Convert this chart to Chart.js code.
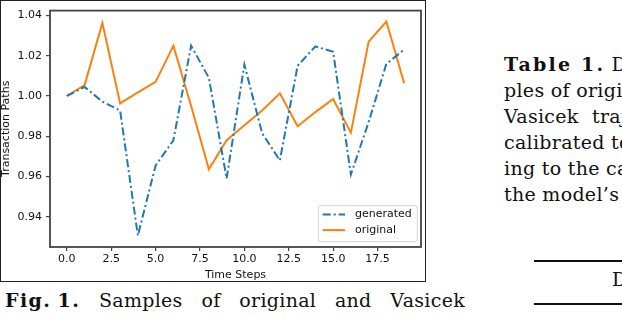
<!DOCTYPE html>
<html>
<head>
<meta charset="utf-8">
<script src="https://cdn.jsdelivr.net/npm/chart.js@4.4.1/dist/chart.umd.min.js"></script>
<style>
html, body { margin: 0; padding: 0; background: #fff; width: 622px; height: 318px; overflow: hidden; }
#frame { position: absolute; left: 0; top: 0; width: 426px; height: 282px; box-sizing: border-box; border: 1.5px solid #222; }
#plot { position: absolute; left: 0; top: 0; }
.serif { font-family: "DejaVu Serif", serif; font-size: 19px; line-height: 26px; color: #111; letter-spacing: 0.3px; }
.serif b { letter-spacing: 1.4px; }
#caption { position: absolute; left: 5px; top: 287px; width: 460px; text-align: justify; text-align-last: justify; }
#caption .lab { display: inline-block; }
#side { position: absolute; left: 504px; top: 51px; white-space: nowrap; }
#side b { letter-spacing: 2.2px; }
#side .wide { word-spacing: 7px; }
#rule1 { position: absolute; left: 534px; top: 260px; width: 100px; height: 2px; background: #111; }
#rule2 { position: absolute; left: 534px; top: 303px; width: 100px; height: 1.5px; background: #111; }
#tabhead { position: absolute; left: 612px; top: 266px; white-space: nowrap; }
</style>
</head>
<body>
<canvas id="plot" width="430" height="284"></canvas>
<div id="frame"></div>
<div id="caption" class="serif"><span class="lab"><b>Fig.</b> <b>1.</b></span> Samples of original and Vasicek</div>
<div id="side" class="serif">
<div><b>Table 1.</b> Distances between sam-</div>
<div>ples of original and generated</div>
<div class="wide">Vasicek trajectories, with the model</div>
<div>calibrated to the data correspond-</div>
<div>ing to the calibration date and</div>
<div>the model’s parameters</div>
</div>
<div id="rule1"></div>
<div id="tabhead" class="serif">Data</div>
<div id="rule2"></div>
<script>
// DATA
const steps = [0, 1, 2, 3, 4, 5, 6, 7, 8, 9, 10, 11, 12, 13, 14, 15, 16, 17, 18, 19];
const generated = [1.000, 1.0045, 0.9972, 0.9928, 0.9306, 0.9655, 0.978, 1.025, 1.009, 0.959,
    1.0156, 0.9815, 0.968, 1.015, 1.0246, 1.022, 0.961, 0.987, 1.016, 1.023];
const original = [1.000, 1.0054, 1.0363, 0.9963, 1.0018, 1.007, 1.025, 0.995, 0.9636, 0.978,
    0.9855, 0.9928, 1.0013, 0.985, 0.992, 0.9985, 0.9818, 1.027, 1.037, 1.0063];
const xTicks = [0, 2.5, 5, 7.5, 10, 12.5, 15, 17.5];
const yTicks = [0.94, 0.96, 0.98, 1.00, 1.02, 1.04];

const tickFont = { family: 'DejaVu Sans', size: 11 };

// SPINES
const spines = {
    id: 'spines',
    afterDatasetsDraw(chart) {
        const { ctx, chartArea: a } = chart;
        ctx.save();
        ctx.strokeStyle = '#444';
        ctx.lineWidth = 1.8;
        ctx.strokeRect(a.left, a.top, a.right - a.left, a.bottom - a.top);
        ctx.restore();
    }
};

// LEGEND INSIDE THE PLOT
const legendBox = {
    id: 'legendBox',
    afterDraw(chart) {
        const { ctx, chartArea: a } = chart;
        const bx = a.right - 102.7, by = a.bottom - 41.3, bw = 99, bh = 36;
        ctx.save();
        ctx.beginPath();
        ctx.roundRect(bx, by, bw, bh, 2.5);
        ctx.fillStyle = 'rgba(255,255,255,0.85)';
        ctx.fill();
        ctx.strokeStyle = '#d4d4d4';
        ctx.lineWidth = 1;
        ctx.stroke();
        ctx.font = '11px "DejaVu Sans"';
        ctx.textBaseline = 'middle';
        chart.data.datasets.forEach((ds, i) => {
            const y = by + 8.8 + i * 15.6;
            ctx.beginPath();
            ctx.setLineDash(ds.borderDash || []);
            ctx.strokeStyle = ds.borderColor;
            ctx.lineWidth = ds.borderWidth;
            ctx.moveTo(bx + 4.4, y);
            ctx.lineTo(bx + 26.7, y);
            ctx.stroke();
            ctx.setLineDash([]);
            ctx.fillStyle = '#111';
            ctx.fillText(ds.label, bx + 36.7, y);
        });
        ctx.restore();
    }
};

const ctx = document.getElementById('plot');

new Chart(ctx, {
    type: 'line',
    data: {
        datasets: [{
            label: 'generated',
            data: steps.map((s, i) => ({ x: s, y: generated[i] })),
            borderColor: '#1f77b4',
            borderWidth: 2,
            borderDash: [8, 3, 2, 3],
            pointRadius: 0,
            tension: 0,
            fill: false
        }, {
            label: 'original',
            data: steps.map((s, i) => ({ x: s, y: original[i] })),
            borderColor: '#ff7f0e',
            borderWidth: 2,
            pointRadius: 0,
            tension: 0,
            fill: false
        }]
    },
    options: {
        responsive: false,
        animation: false,
        devicePixelRatio: 1,
        layout: { padding: { top: 6, right: 9, bottom: 2, left: 0 } },
        plugins: { legend: { display: false }, tooltip: { enabled: false } },
        scales: {
            x: {
                type: 'linear',
                min: -0.95,
                max: 19.95,
                afterBuildTicks: s => { s.ticks = xTicks.map(v => ({ value: v })); },
                afterFit: s => { s.height = 35; },
                ticks: { font: tickFont, color: '#111', padding: 2, maxRotation: 0, callback: v => v.toFixed(1) },
                grid: { drawOnChartArea: false, tickLength: 4, color: '#444', lineWidth: 1.2 },
                border: { display: false },
                title: { display: true, text: 'Time Steps', font: tickFont, color: '#111', padding: { top: 0, bottom: 0 } }
            },
            y: {
                min: 0.925,
                max: 1.0424,
                afterBuildTicks: s => { s.ticks = yTicks.map(v => ({ value: v })); },
                afterFit: s => { s.width = 50; },
                ticks: { font: tickFont, color: '#111', padding: 4, callback: v => v.toFixed(2) },
                grid: { drawOnChartArea: false, tickLength: 4, color: '#444', lineWidth: 1.2 },
                border: { display: false },
                title: { display: true, text: 'Transaction Paths', font: tickFont, color: '#111', padding: { top: 0, bottom: 0 } }
            }
        }
    },
    plugins: [spines, legendBox]
});
</script>
</body>
</html>
